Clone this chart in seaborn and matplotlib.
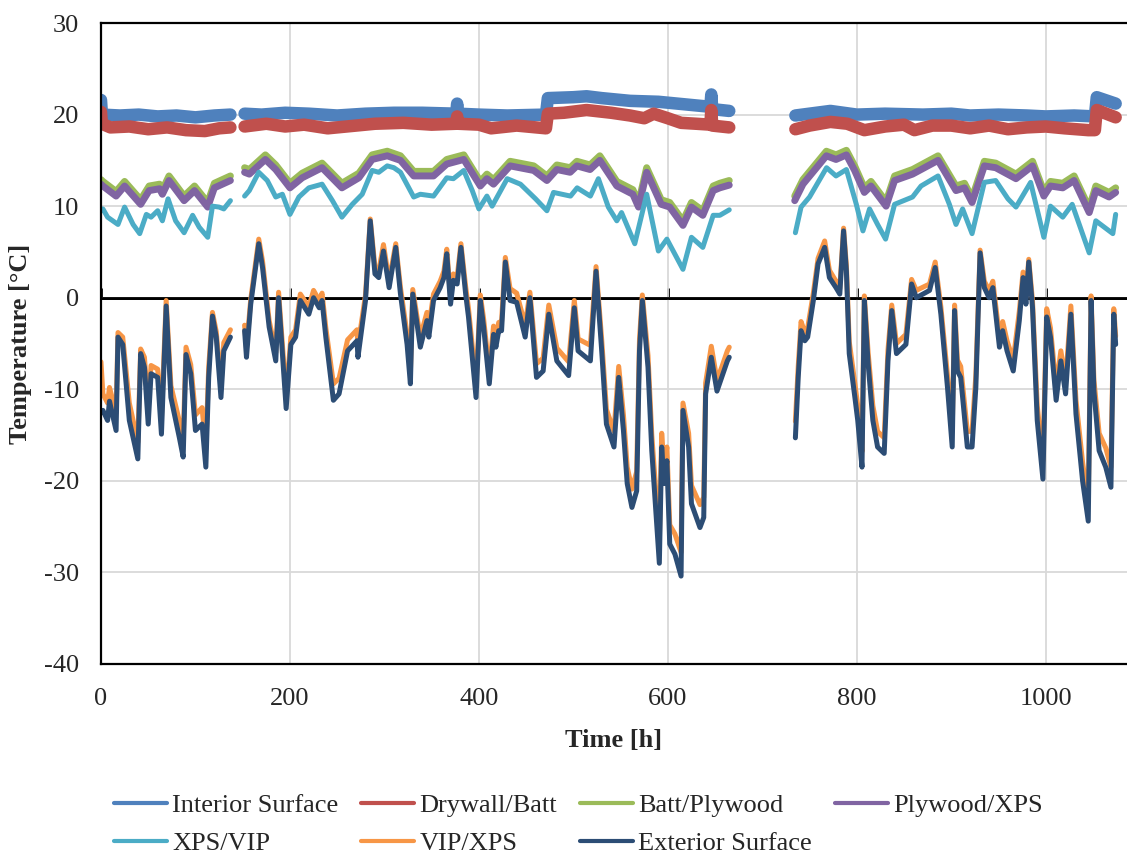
import numpy as np
import pandas as pd
import matplotlib.pyplot as plt
import seaborn as sns
from matplotlib.lines import Line2D

nan = np.nan

# ── data: time [h], temperature [°C]; nan = logging gap ──
int_time = [0, 1, 20, 40, 60, 80, 100, 120, 137, nan,
            152, 170, 195, 220, 250, 280, 310, 340, 376, 377, 378, 400, 430, 471,
            473, 500, 514, 530, 560, 590, 610, 640, 645, 646, 647, 665, nan,
            735, 772, 800, 830, 870, 900, 920, 950, 980, 1000, 1030, 1052, 1054, 1074]
int_temp = [21.6, 20.0, 19.9, 20.0, 19.8, 19.9, 19.7, 19.9, 20.0, nan,
            20.1, 20.0, 20.2, 20.1, 19.9, 20.1, 20.2, 20.2, 20.1, 21.2, 20.1, 20.0, 19.9, 20.0,
            21.8, 21.9, 22.0, 21.8, 21.5, 21.4, 21.2, 20.9, 20.8, 22.2, 20.6, 20.4, nan,
            19.9, 20.4, 20.0, 20.1, 20.0, 20.1, 19.9, 20.0, 19.9, 19.8, 19.9, 19.8, 21.9, 21.2]

dry_time = [0, 1, 10, 30, 50, 70, 90, 110, 125, 137, nan,
            152, 175, 195, 215, 240, 260, 290, 320, 350, 376, 377, 378, 400, 413, 440, 471,
            473, 490, 514, 540, 560, 575, 585, 600, 614, 630, 645, 646, 647, 665, nan,
            735, 750, 772, 790, 808, 830, 850, 861, 880, 900, 920, 940, 960, 980, 1000, 1020,
            1045, 1052, 1054, 1074]
dry_temp = [20.3, 19.0, 18.6, 18.7, 18.4, 18.6, 18.3, 18.2, 18.5, 18.6, nan,
            18.7, 19.0, 18.7, 18.9, 18.5, 18.7, 19.0, 19.1, 18.9, 19.0, 19.8, 19.0, 18.9, 18.5, 18.8, 18.5,
            20.1, 20.2, 20.5, 20.2, 19.9, 19.6, 20.1, 19.6, 19.1, 19.0, 18.9, 20.5, 18.8, 18.6, nan,
            18.4, 18.8, 19.2, 19.0, 18.3, 18.7, 18.9, 18.3, 18.8, 18.8, 18.5, 18.8, 18.4, 18.6, 18.7, 18.5,
            18.3, 18.3, 20.5, 19.7]

ply_time = [0, 2, 16, 25, 42, 51, 62, 65, 72, 88, 99, 113, 120, 137, nan,
            152, 157, 174, 185, 200, 213, 234, 255, 273, 287, 303, 317, 331, 352, 366, 384,
            401.5, 408.5, 415.5, 433, 458, 472, 482.5, 496.6, 503.7, 517.7, 528, 546, 563, 569,
            577.6, 593, 602, 616, 625, 637, 648, 655, 665, nan,
            734.3, 743, 767.8, 778, 789, 797.7, 808, 815, 831, 840, 859, 886, 905, 914, 922,
            935, 947, 968.5, 986, 998, 1005, 1018, 1030, 1046, 1053, 1067, 1074]
batt_temp = [12.9, 12.7, 11.6, 12.7, 10.7, 12.2, 12.4, 11.8, 13.3, 11.1, 12.2, 10.4, 12.5, 13.3, nan,
             14.2, 14.0, 15.6, 14.5, 12.5, 13.6, 14.7, 12.5, 13.6, 15.6, 16.0, 15.5, 13.8, 13.8, 15.1, 15.6,
             12.7, 13.5, 12.9, 14.9, 14.4, 13.3, 14.5, 14.2, 14.9, 14.5, 15.5, 12.7, 11.8, 10.4,
             14.2, 10.7, 10.4, 8.4, 10.4, 9.5, 12.2, 12.5, 12.8, nan,
             11.1, 12.9, 16.0, 15.6, 16.1, 14.4, 12.0, 12.7, 10.5, 13.3, 14.0, 15.5, 12.2, 12.5, 10.9,
             14.9, 14.7, 13.5, 14.9, 11.6, 12.7, 12.5, 13.3, 9.8, 12.2, 11.5, 12.0]
ply_temp = [12.4, 12.2, 11.1, 12.2, 10.2, 11.7, 11.9, 11.3, 12.8, 10.6, 11.7, 9.9, 12.0, 12.8, nan,
            13.7, 13.5, 15.1, 14.0, 12.0, 13.1, 14.2, 12.0, 13.1, 15.1, 15.5, 15.0, 13.3, 13.3, 14.6, 15.1,
            12.2, 13.0, 12.4, 14.4, 13.9, 12.8, 14.0, 13.7, 14.4, 14.0, 15.0, 12.2, 11.3, 9.9,
            13.7, 10.2, 9.9, 7.9, 9.9, 9.0, 11.7, 12.0, 12.3, nan,
            10.6, 12.4, 15.5, 15.1, 15.6, 13.9, 11.5, 12.2, 10.0, 12.8, 13.5, 15.0, 11.7, 12.0, 10.4,
            14.4, 14.2, 13.0, 14.4, 11.1, 12.2, 12.0, 12.8, 9.3, 11.7, 11.0, 11.5]

xps_time = [0, 2, 7, 18, 25, 34, 41, 48, 53, 60, 65, 71, 79, 88, 97, 104, 113, 118, 125, 130, 137, nan,
            152, 157, 167, 176, 185, 192, 200, 209.5, 220, 234, 245, 255, 266, 276.5, 287, 294, 303,
            310, 317, 331, 338, 352, 366, 373, 384, 393, 400, 408.5, 414, 430, 444, 460, 472, 479,
            497, 504, 518, 526.5, 537, 546, 551, 565, 577.6, 590, 599, 616, 625, 637, 648, 655, 665, nan,
            735, 741, 750, 768, 778, 789, 799.5, 806.5, 813.5, 822, 830.5, 840, 859, 868, 886, 898,
            905, 912, 922, 935, 947, 960, 968.5, 984, 998, 1005, 1018, 1028, 1046, 1053, 1071, 1074]
xps_temp = [9.5, 9.7, 8.8, 8.0, 9.9, 8.0, 7.0, 9.1, 8.8, 9.5, 8.4, 10.8, 8.4, 7.1, 9.0, 7.7, 6.6, 10.0, 9.9, 9.7, 10.6, nan,
            11.1, 11.7, 13.7, 12.8, 11.0, 11.3, 9.1, 11.0, 12.0, 12.4, 10.6, 8.8, 10.2, 11.3, 13.9, 13.7, 14.4,
            14.2, 13.7, 11.0, 11.3, 11.1, 13.1, 13.0, 13.9, 11.7, 9.7, 11.1, 10.0, 13.0, 12.4, 10.8, 9.5, 11.5,
            11.1, 12.0, 11.1, 13.0, 9.9, 8.4, 9.3, 5.9, 11.3, 5.1, 6.4, 3.1, 6.6, 5.5, 9.0, 9.0, 9.6, nan,
            7.1, 9.9, 11.0, 14.2, 13.3, 14.0, 10.2, 7.3, 9.7, 8.0, 6.4, 10.2, 11.0, 12.2, 13.3, 10.2,
            8.0, 9.7, 7.0, 12.6, 12.8, 10.8, 9.9, 12.6, 6.6, 10.0, 8.8, 10.2, 4.9, 8.4, 7.0, 9.1]

ext_time = [0, 2, 7, 9, 16, 18, 23, 30, 39, 42, 46, 50, 53, 60, 64, 69, 74, 83, 87, 90,
            95, 100, 107, 111, 114, 118, 122, 127, 130, 137, nan,
            152, 154, 158.5, 167, 171, 178, 185, 188, 196, 201, 206, 211, 220, 225, 231,
            234, 238, 246, 252, 261, 271, 272, 280, 285, 290, 294, 299, 305, 312, 317,
            324, 327.5, 330, 335, 338, 345, 347, 352, 359, 363, 366, 370, 373, 377, 381,
            386, 389, 393, 397, 401.5, 405, 411, 415.5, 418, 421, 424, 428, 433, 440, 449,
            454, 461, 468, 474, 482.5, 495, 501, 505, 518, 524, 530, 535, 543, 548, 553,
            557, 562, 567, 570, 573, 579, 583, 591, 593.5, 596, 599, 602, 607.5, 614, 616,
            622, 625, 634, 638, 640, 646, 652, 657, 663, 665, nan,
            735, 738, 741, 745, 748, 754, 759, 766, 771, 778, 782, 786, 789, 792, 798,
            801, 805.5, 808, 812, 817, 822, 829, 833, 837, 842, 852, 858, 863, 877, 883,
            889, 896, 901, 903.5, 906.5, 910, 917, 922, 926, 930.5, 935, 940, 944, 951, 954.4,
            959, 965.6, 972, 976, 979, 982, 986, 991, 997, 1001, 1005, 1011, 1016, 1021, 1026.6,
            1032, 1039, 1045, 1048, 1051, 1056.5, 1063.5, 1069, 1072, 1074]
vip_temp = [-7.0, -10.5, -11.5, -9.8, -12.6, -3.8, -4.3, -11.5, -15.8, -5.6, -6.5, -12.2, -7.4, -7.8, -13.2,
            -0.3, -9.6, -13.5, -15.5, -5.4, -7.3, -12.8, -12.0, -16.5, -7.6, -1.6, -3.7, -9.6, -4.9, -3.5, nan,
            -3.0, -5.5, -0.2, 6.4, 4.0, -2.5, -6.0, 0.6, -10.8, -4.3, -3.5, 0.4, -1.0, 0.8, -0.3,
            0.5, -3.3, -9.4, -8.8, -4.6, -3.5, -5.3, 0.3, 8.6, 3.3, 2.9, 5.8, 1.8, 5.9, 1.1,
            -4.0, -8.2, 0.9, -2.4, -4.3, -1.6, -3.2, 0.4, 1.8, 2.9, 5.3, 0.0, 2.6, 2.3, 5.9,
            1.2, -1.2, -5.3, -9.6, 0.3, -2.3, -8.1, -3.1, -4.3, -2.7, -2.6, 4.4, 1.0, 0.5, -3.0,
            0.6, -7.2, -6.6, -0.8, -5.5, -7.0, -0.3, -4.5, -5.2, 3.4, -4.6, -12.2, -14.6, -7.5, -12.8,
            -18.5, -20.9, -19.0, -4.5, 0.3, -6.3, -15.0, -26.5, -14.8, -18.5, -16.3, -24.8, -25.8, -27.8, -11.5,
            -14.8, -20.5, -22.6, -21.8, -9.3, -5.3, -9.0, -7.6, -5.8, -5.4, nan,
            -13.5, -7.5, -2.6, -3.8, -3.3, 0.5, 4.3, 6.2, 3.0, 1.8, 1.0, 7.6, 3.5, -4.8, -9.4,
            -11.8, -16.8, 0.2, -6.0, -11.8, -14.6, -15.3, -5.7, -0.8, -5.0, -4.0, 2.0, 0.8, 1.5, 3.9,
            -1.0, -8.5, -14.6, -0.8, -6.8, -7.5, -14.6, -14.6, -8.5, 5.2, 1.8, 0.8, 1.8, -4.3, -2.6,
            -4.7, -6.8, -1.5, 2.8, 0.0, 4.2, -0.4, -11.8, -17.8, -1.2, -3.3, -9.8, -5.8, -9.2, -0.9,
            -11.2, -18.0, -22.3, 0.2, -9.0, -14.8, -16.4, -18.5, -1.2, -4.2]
ext_temp = [-12.5, -12.3, -13.4, -11.3, -14.5, -4.3, -5.1, -13.4, -17.6, -6.1, -7.6, -13.8, -8.3, -8.7, -14.9,
            -0.9, -10.9, -15.3, -17.4, -6.2, -8.3, -14.5, -13.8, -18.5, -8.7, -2.0, -4.3, -10.9, -5.8, -4.3, nan,
            -3.6, -6.5, -0.7, 5.9, 3.3, -3.2, -6.9, 0.0, -12.1, -5.1, -4.3, -0.3, -1.8, 0.0, -1.1,
            -0.3, -4.3, -11.2, -10.5, -5.8, -4.7, -6.5, -0.3, 8.4, 2.6, 2.2, 5.1, 1.1, 5.5, 0.4,
            -5.1, -9.4, 0.4, -3.2, -5.4, -2.5, -4.3, -0.3, 1.1, 2.2, 4.8, -0.7, 1.9, 1.5, 5.5,
            0.4, -2.1, -6.5, -10.9, -0.3, -3.2, -9.4, -4.0, -5.4, -3.6, -3.6, 3.9, -0.3, -0.5, -4.3,
            0.0, -8.7, -8.0, -1.8, -6.9, -8.5, -1.1, -5.8, -6.9, 2.9, -5.8, -13.8, -16.3, -8.7, -14.5,
            -20.3, -22.9, -21.1, -5.8, -0.3, -7.6, -16.7, -29.0, -16.3, -20.3, -17.8, -26.9, -28.0, -30.4, -12.3,
            -16.3, -22.5, -25.1, -24.0, -10.5, -6.5, -10.2, -8.7, -6.9, -6.5, nan,
            -15.3, -8.7, -3.6, -4.7, -4.3, -0.3, 3.7, 5.5, 2.2, 1.1, 0.4, 7.3, 2.9, -6.1, -10.9,
            -13.4, -18.5, -0.3, -7.2, -13.4, -16.3, -17.0, -6.9, -1.4, -6.1, -5.1, 1.5, 0.0, 0.8, 3.3,
            -1.8, -9.8, -16.3, -1.4, -8.0, -8.7, -16.3, -16.3, -9.8, 4.9, 1.1, 0.0, 1.1, -5.4, -3.6,
            -5.8, -8.0, -2.5, 2.2, -0.7, 3.9, -1.1, -13.4, -19.8, -2.1, -4.3, -11.2, -6.9, -10.5, -1.8,
            -12.7, -20.0, -24.4, -0.3, -10.2, -16.7, -18.5, -20.7, -1.8, -5.1]

labels = ["Interior Surface", "Drywall/Batt", "Batt/Plywood", "Plywood/XPS",
          "XPS/VIP", "VIP/XPS", "Exterior Surface"]
colors = ["#4F81BD", "#C0504D", "#9BBB59", "#8064A2", "#4BACC6", "#F79646", "#2C4D75"]
widths = [9.0, 9.0, 5.0, 5.0, 3.6, 3.6, 3.6]
series_time = [int_time, dry_time, ply_time, ply_time, xps_time, ext_time, ext_time]
series_temp = [int_temp, dry_temp, batt_temp, ply_temp, xps_temp, vip_temp, ext_temp]

rows = []
for name, tt, vv in zip(labels, series_time, series_temp):
    seg = 0
    for t, v in zip(tt, vv):
        if np.isnan(t):
            seg += 1
            continue
        rows.append((name, seg, t, v))
df = pd.DataFrame(rows, columns=["series", "seg", "time", "temp"])

# ── plot ──
sns.set_theme(style="white")
plt.rcParams["font.family"] = ["Liberation Serif", "DejaVu Serif"]
plt.rcParams["axes.unicode_minus"] = False

fig = plt.figure(figsize=(11.27, 8.56), dpi=100)
ax = fig.add_axes([0.0896, 0.2243, 0.9104, 0.7488])

for name, c, lw in zip(labels, colors, widths):
    sns.lineplot(data=df[df["series"] == name], x="time", y="temp", units="seg",
                 estimator=None, sort=False, color=c, lw=lw, ax=ax, legend=False)

ax.set_xlim(0, 1086)
ax.set_ylim(-40, 30)
ax.set_xticks(range(0, 1001, 200))
ax.set_yticks(range(-40, 31, 10))
ax.grid(True, color="#d9d9d9", lw=1.3)
ax.set_axisbelow(True)
for s in ["top", "left", "bottom"]:
    ax.spines[s].set_color("black")
    ax.spines[s].set_linewidth(1.6)
ax.spines["right"].set_visible(False)
ax.tick_params(axis="x", length=0, labelsize=19, pad=17)
ax.tick_params(axis="y", length=0, labelsize=19, pad=16)
ax.set_xlabel("Time [h]", fontsize=19, fontweight="bold", labelpad=14)
ax.set_ylabel("Temperature [°C]", fontsize=19, fontweight="bold", labelpad=8)

# horizontal axis crossing at 0 °C, small ticks pointing up
ax.axhline(0, color="black", lw=2, zorder=1.5)
zero_ax = ax.secondary_xaxis(40 / 70)
zero_ax.set_xticks(range(0, 1001, 200))
zero_ax.set_xticklabels([])
zero_ax.tick_params(axis="x", which="major", bottom=True, top=False, direction="in",
                    length=7, width=2, color="black")
for sp in zero_ax.spines.values():
    sp.set_color("black")
    sp.set_linewidth(2)

# legend filled row by row, as in the original (matplotlib fills columns)
order = [0, 4, 1, 5, 2, 6, 3]
handles = [Line2D([0], [0], color=colors[i], lw=3) for i in order]
fig.legend(handles, [labels[i] for i in order], loc="upper left",
           bbox_to_anchor=(0.0896, 0.0885), ncol=4, frameon=False, fontsize=19,
           handlelength=2.0, handletextpad=0.2, columnspacing=0.87,
           labelspacing=0.55, borderpad=0)

fig.savefig("out.png", dpi=100)
